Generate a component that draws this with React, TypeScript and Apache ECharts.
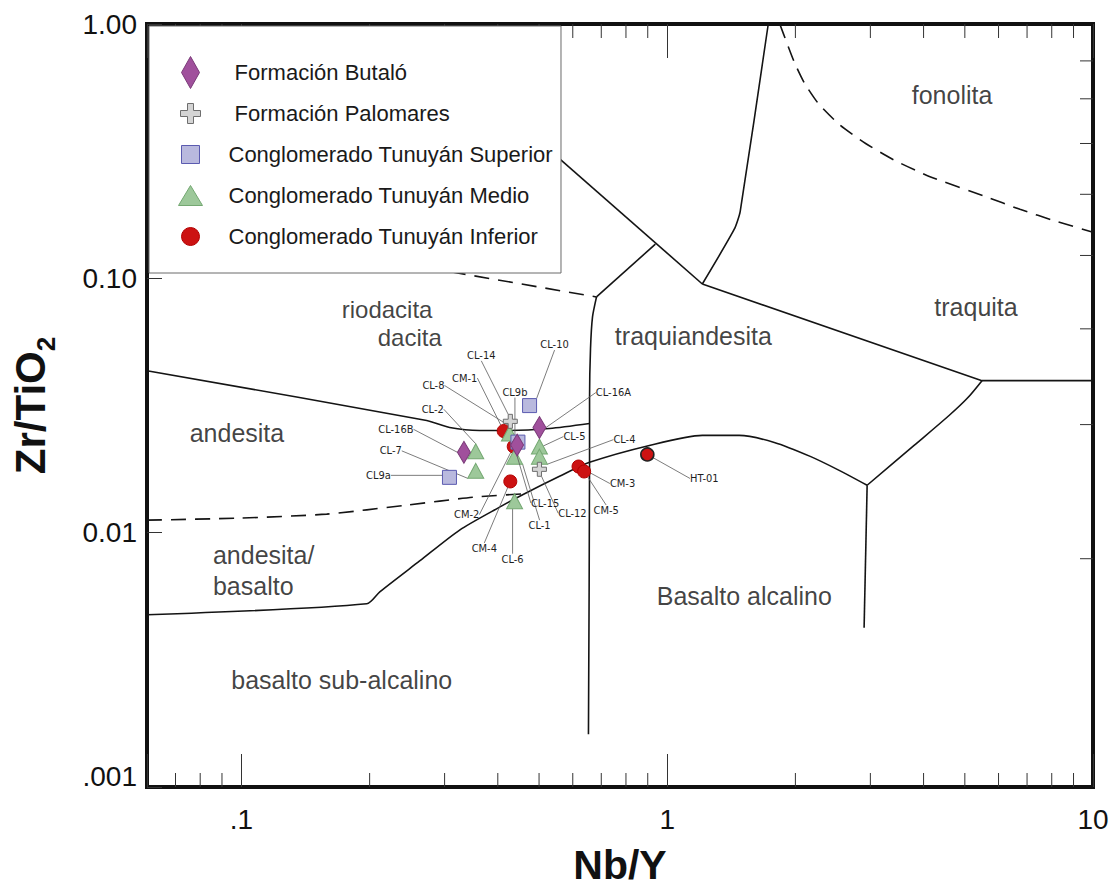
import React, { useEffect, useRef } from 'react';
import * as echarts from 'echarts';

const FONT = "'Liberation Sans', Arial, Helvetica, sans-serif";
const NARROW = "'Liberation Sans Narrow', 'Arial Narrow', 'DejaVu Sans Condensed', 'Liberation Sans', sans-serif";

// Axis extents (Nb/Y horizontal, Zr/TiO2 vertical, both logarithmic)
const NBY_MIN = 0.06;
const NBY_MAX = 10;
const ZR_MIN = 0.001;
const ZR_MAX = 1;

// Tick label text keyed by decade exponent
const xTickText: Record<string, string> = { '-1': '.1', '0': '1', '1': '10' };
const yTickText: Record<string, string> = { '0': '1.00', '-1': '0.10', '-2': '0.01', '-3': '.001' };

// Minor ticks along the Nb/Y axis and the secondary ticks on the right frame
const xMinorTicks = [0.07, 0.08, 0.09, 0.2, 0.3, 0.4, 0.5, 0.6, 0.7, 0.8, 0.9, 2, 3, 4, 5, 6, 7, 8, 9];
const rightTicks = [0.716, 0.508, 0.339, 0.214, 0.123, 0.0633, 0.0266, 0.0079];

// Samples: Formación Butaló
const butaloSamples = ['CL-16B', 'CL-15', 'CL-16A'];
const butaloNbY = [0.333, 0.444, 0.501];
const butaloZr = [0.0207, 0.0221, 0.0259];

// Samples: Formación Palomares
const palomaresSamples = ['CL-14', 'CL-12'];
const palomaresNbY = [0.428, 0.501];
const palomaresZr = [0.0274, 0.01775];

// Samples: Conglomerado Tunuyán Superior
const superiorSamples = ['CL-10', 'CL9b', 'CL9a'];
const superiorNbY = [0.475, 0.446, 0.308];
const superiorZr = [0.0316, 0.0227, 0.0165];

// Samples: Conglomerado Tunuyán Medio
const medioSamples = ['CL-8', 'CL-2', 'CL-7', 'CL-1', 'CL-5', 'CL-4', 'CL-6'];
const medioNbY = [0.426, 0.355, 0.355, 0.438, 0.501, 0.501, 0.438];
const medioZr = [0.02455, 0.0209, 0.0175, 0.0199, 0.0218, 0.0199, 0.0133];

// Samples: Conglomerado Tunuyán Inferior
const inferiorSamples = ['CM-1', 'CM-2', 'CM-4', 'CM-3', 'CM-5', 'HT-01'];
const inferiorNbY = [0.413, 0.436, 0.428, 0.619, 0.638, 0.898];
const inferiorZr = [0.0251, 0.0218, 0.0159, 0.0182, 0.0174, 0.0203];

// Where each sample tag sits relative to its marker (pixels)
const labelOffset: Record<string, [number, number]> = {
  'CL-16B': [-68, -23], 'CL-15': [28, 58], 'CL-16A': [74, -35],
  'CL-14': [-29, -66], 'CL-12': [33, 44],
  'CL-10': [25, -61], 'CL9b': [-3, -50], 'CL9a': [-71, -2],
  'CL-8': [-76, -48], 'CL-2': [-43, -42], 'CL-7': [-85, -20], 'CL-1': [25, 69],
  'CL-5': [35, -10], 'CL-4': [85, -17], 'CL-6': [-2, 58],
  'CM-1': [-39, -53], 'CM-2': [-47, 68], 'CM-4': [-26, 67], 'CM-3': [44, 17],
  'CM-5': [22, 39], 'HT-01': [57, 24],
};

// Field boundaries of the Nb/Y vs Zr/TiO2 classification, as [Nb/Y, Zr/TiO2]
const andesiteUpper = [[0.06, 0.04334], [0.2723, 0.02761], [0.3083, 0.02592], [0.3625, 0.02523], [0.4263, 0.02523], [0.529, 0.02569], [0.657, 0.02688]];
const andesiteBasaltDashed = [[0.06, 0.0112], [0.0992, 0.01141], [0.1586, 0.01183], [0.2444, 0.01283], [0.3491, 0.01378], [0.4599, 0.01422]];
const subalkalineLimit = [[0.06, 0.004755], [0.1969, 0.005253], [0.2113, 0.005853], [0.2621, 0.007738], [0.3254, 0.01024], [0.4039, 0.0126], [0.4599, 0.01416], [0.5585, 0.01666], [0.657, 0.0189], [0.908, 0.02203], [1.209, 0.02412], [1.476, 0.02412], [1.784, 0.02264], [2.167, 0.01995], [2.534, 0.01758], [2.948, 0.01536]];
const trachyandesiteWest = [[0.6822, 0.0845], [0.6676, 0.07054], [0.6604, 0.05284], [0.657, 0.03367], [0.657, 0.0189], [0.6531, 0.001612]];
const rhyodaciteDashed = [[0.2113, 0.1185], [0.6822, 0.0845]];
const rhyoliteLimit = [[0.4498, 0.4058], [1.209, 0.095]];
const comenditeSpur = [[0.938, 0.1363], [0.6822, 0.0845]];
const trachyteWest = [[1.209, 0.095], [1.437, 0.156], [1.484, 0.1835], [1.727, 1]];
const phonoliteDashed = [[1.838, 1], [1.906, 0.85], [1.989, 0.707], [2.1, 0.586], [2.266, 0.486], [2.547, 0.4], [2.924, 0.339], [3.43, 0.2903], [4.156, 0.2504], [5.576, 0.2101], [6.737, 0.1868], [8.184, 0.1677], [10, 0.1518]];
const trachyteBase = [[1.209, 0.095], [5.486, 0.0396], [10, 0.0396]];
const basaniteCurve = [[5.486, 0.0396], [5.059, 0.03367], [4.591, 0.02888], [3.8, 0.02203], [2.948, 0.01536]];
const alkaliBasaltEast = [[2.948, 0.01536], [2.9, 0.004229]];

// Field names (rich-text markup for stacked names) and their anchor points
const fieldNames = ['fonolita', 'traquita', 'traquiandesita', '{r|riodacita}\n{d|dacita}', 'andesita', 'andesita/\nbasalto', 'Basalto alcalino', 'basalto sub-alcalino'];
const fieldNbY = [4.666, 5.311, 1.152, 0.172, 0.0976, 0.0857, 1.517, 0.172];
const fieldZr = [0.527, 0.0772, 0.0594, 0.0662, 0.02455, 0.0071, 0.005644, 0.002623];
const fieldAlign = ['center', 'center', 'center', 'left', 'center', 'left', 'center', 'center'];

const SERIES_BUTALO = ' Formación Butaló';
const SERIES_PALOMARES = ' Formación Palomares';
const SERIES_SUPERIOR = 'Conglomerado Tunuyán Superior';
const SERIES_MEDIO = 'Conglomerado Tunuyán Medio';
const SERIES_INFERIOR = 'Conglomerado Tunuyán Inferior';

const CROSS = 'path://M7 0H13V7H20V13H13V20H7V13H0V7H7Z';

const decade = (v: number) => {
  const l = Math.log10(v);
  const r = Math.round(l);
  return Math.abs(l - r) < 1e-6 ? String(r) : null;
};

const boundary = (data: number[][], dashed = false, smooth: number | boolean = false) => ({
  type: 'line',
  data,
  symbol: 'none',
  showSymbol: false,
  silent: true,
  smooth,
  z: 1,
  lineStyle: { color: '#141414', width: 1.6, type: dashed ? [15, 9] : 'solid' },
});

const tickSeries = (data: number[][], dx: number, dy: number) => ({
  type: 'custom',
  silent: true,
  z: 1,
  data,
  renderItem: (_p: any, api: any) => {
    const p = api.coord([api.value(0), api.value(1)]);
    return {
      type: 'line',
      shape: { x1: p[0], y1: p[1], x2: p[0] + dx, y2: p[1] + dy },
      style: { stroke: '#333', lineWidth: 1 },
    };
  },
});

const sampleSeries = (
  name: string,
  names: string[],
  xs: number[],
  ys: number[],
  symbol: string,
  symbolSize: number | number[],
  color: string,
  borderColor: string,
  z: number,
) => ({
  type: 'scatter',
  name,
  z,
  symbol,
  symbolSize,
  itemStyle: { color, borderColor, borderWidth: 1, opacity: 1 },
  emphasis: { disabled: true },
  data: names.map((n, i) => {
    const item: any = { name: n, value: [xs[i], ys[i]] };
    if (n === 'HT-01') item.itemStyle = { borderColor: '#222', borderWidth: 1.6 };
    return item;
  }),
  label: {
    show: true,
    position: 'inside',
    formatter: '{b}',
    fontSize: 11,
    fontFamily: NARROW,
    color: '#1e1e1e',
  },
  labelLine: { show: true, lineStyle: { color: '#5a5a5a', width: 0.8 } },
  labelLayout: (p: any) => {
    const o = labelOffset[names[p.dataIndex]] || [0, 0];
    return { dx: o[0], dy: o[1] };
  },
});

const legendIcon = (shape: string) => `path://M0 0M48 32${shape}`;

const option: any = {
  animation: false,
  backgroundColor: '#ffffff',
  textStyle: { fontFamily: FONT },
  grid: {
    left: 147,
    right: 23,
    top: 24,
    bottom: 100,
    show: true,
    borderColor: '#111',
    borderWidth: 4,
    backgroundColor: 'transparent',
  },
  legend: {
    orient: 'vertical',
    left: 149,
    top: 26,
    itemWidth: 48,
    itemHeight: 32,
    itemGap: 8,
    padding: [30, 8, 20, 26],
    backgroundColor: '#ffffff',
    borderColor: '#6a6a6a',
    borderWidth: 1,
    selectedMode: false,
    itemStyle: { borderWidth: 1 },
    textStyle: { fontSize: 22, color: '#1a1a1a', fontFamily: FONT },
    data: [
      { name: SERIES_BUTALO, icon: legendIcon('M15 0L24 16L15 32L6 16Z') },
      { name: SERIES_PALOMARES, icon: legendIcon('M12 6H18V13H25V19H18V26H12V19H5V13H12Z') },
      { name: SERIES_SUPERIOR, icon: legendIcon('M6 7H24V25H6Z') },
      { name: SERIES_MEDIO, icon: legendIcon('M3 26L15 6L27 26Z') },
      { name: SERIES_INFERIOR, icon: legendIcon('M6 16A9 9 0 1 1 24 16A9 9 0 1 1 6 16Z') },
    ],
  },
  xAxis: [
    {
      type: 'log',
      logBase: 10,
      min: NBY_MIN,
      max: NBY_MAX,
      position: 'bottom',
      axisLine: { show: false },
      splitLine: { show: false },
      axisTick: { inside: true, length: 33, lineStyle: { color: '#333', width: 1 } },
      axisLabel: {
        fontSize: 28,
        color: '#111',
        fontFamily: FONT,
        margin: 18,
        formatter: (v: number) => {
          const d = decade(v);
          return d !== null && xTickText[d] ? xTickText[d] : '';
        },
      },
      name: 'Nb/Y',
      nameLocation: 'middle',
      nameGap: 57,
      nameTextStyle: { fontSize: 41, fontWeight: 'bold', color: '#111', fontFamily: FONT },
    },
    {
      type: 'log',
      logBase: 10,
      min: NBY_MIN,
      max: NBY_MAX,
      position: 'top',
      axisLine: { show: false },
      splitLine: { show: false },
      axisLabel: { show: false },
      axisTick: { inside: true, length: 34, lineStyle: { color: '#333', width: 1 } },
    },
  ],
  yAxis: {
    type: 'log',
    logBase: 10,
    min: ZR_MIN,
    max: ZR_MAX,
    axisLine: { show: false },
    splitLine: { show: false },
    axisTick: { inside: true, length: 15, lineStyle: { color: '#333', width: 1 } },
    axisLabel: {
      fontSize: 28,
      color: '#111',
      fontFamily: FONT,
      margin: 10,
      formatter: (v: number) => {
        const d = decade(v);
        if (d === null || !yTickText[d]) return '';
        return d === '-3' ? `{low|${yTickText[d]}}` : yTickText[d];
      },
      rich: { low: { fontSize: 28, fontFamily: FONT, color: '#111', padding: [0, 0, 22, 0] } },
    },
    name: '{a|Zr/TiO}{b|2}',
    nameLocation: 'middle',
    nameRotate: 90,
    nameGap: 88,
    nameTextStyle: {
      color: '#111',
      fontFamily: FONT,
      rich: {
        a: { fontSize: 42, fontWeight: 'bold', color: '#111', fontFamily: FONT },
        b: { fontSize: 26, fontWeight: 'bold', color: '#111', fontFamily: FONT, verticalAlign: 'bottom', lineHeight: 58 },
      },
    },
  },
  series: [
    tickSeries(xMinorTicks.map((v) => [v, ZR_MIN]), 0, -14),
    tickSeries(xMinorTicks.map((v) => [v, ZR_MAX]), 0, 14),
    tickSeries(rightTicks.map((v) => [NBY_MAX, v]), -13, 0),
    boundary(andesiteUpper, false, 0.25),
    boundary(andesiteBasaltDashed, true, 0.2),
    boundary(subalkalineLimit, false, 0.25),
    boundary(trachyandesiteWest, false, 0.2),
    boundary(rhyodaciteDashed, true),
    boundary(rhyoliteLimit),
    boundary(comenditeSpur),
    boundary(trachyteWest, false, 0.2),
    boundary(phonoliteDashed, true, 0.2),
    boundary(trachyteBase),
    boundary(basaniteCurve, false, 0.3),
    boundary(alkaliBasaltEast),
    {
      type: 'scatter',
      silent: true,
      z: 1,
      symbol: 'circle',
      symbolSize: 0,
      itemStyle: { color: 'rgba(0,0,0,0)' },
      data: fieldNames.map((n, i) => ({
        name: n,
        value: [fieldNbY[i], fieldZr[i]],
        label: { align: fieldAlign[i] },
      })),
      label: {
        show: true,
        position: 'inside',
        formatter: '{b}',
        fontSize: 25,
        lineHeight: 31,
        color: '#111',
        fontFamily: FONT,
        rich: {
          r: { fontSize: 24, lineHeight: 28, color: '#111', fontFamily: FONT },
          d: { fontSize: 24, lineHeight: 28, color: '#111', fontFamily: FONT, padding: [0, 0, 0, 36] },
        },
      },
    },
    sampleSeries(SERIES_INFERIOR, inferiorSamples, inferiorNbY, inferiorZr, 'circle', 13, '#cc1212', '#b30000', 3),
    sampleSeries(SERIES_MEDIO, medioSamples, medioNbY, medioZr, 'triangle', [16, 15], '#9dc89a', '#74a872', 4),
    sampleSeries(SERIES_SUPERIOR, superiorSamples, superiorNbY, superiorZr, 'rect', 14, '#b9b9de', '#5b5bb0', 5),
    sampleSeries(SERIES_PALOMARES, palomaresSamples, palomaresNbY, palomaresZr, CROSS, 14, '#d4d4d4', '#6e6e6e', 6),
    sampleSeries(SERIES_BUTALO, butaloSamples, butaloNbY, butaloZr, 'diamond', [13, 22], '#a0509c', '#7a3a78', 7),
  ],
};

export default function App() {
  const ref = useRef<HTMLDivElement>(null);
  useEffect(() => {
    if (!ref.current) return;
    const chart = echarts.init(ref.current, null, { renderer: 'svg' });
    chart.setOption(option);
    return () => chart.dispose();
  }, []);
  return (
    <div
      ref={ref}
      style={{ position: 'absolute', left: 0, top: 0, width: 1116, height: 890, background: '#fff' }}
    />
  );
}
